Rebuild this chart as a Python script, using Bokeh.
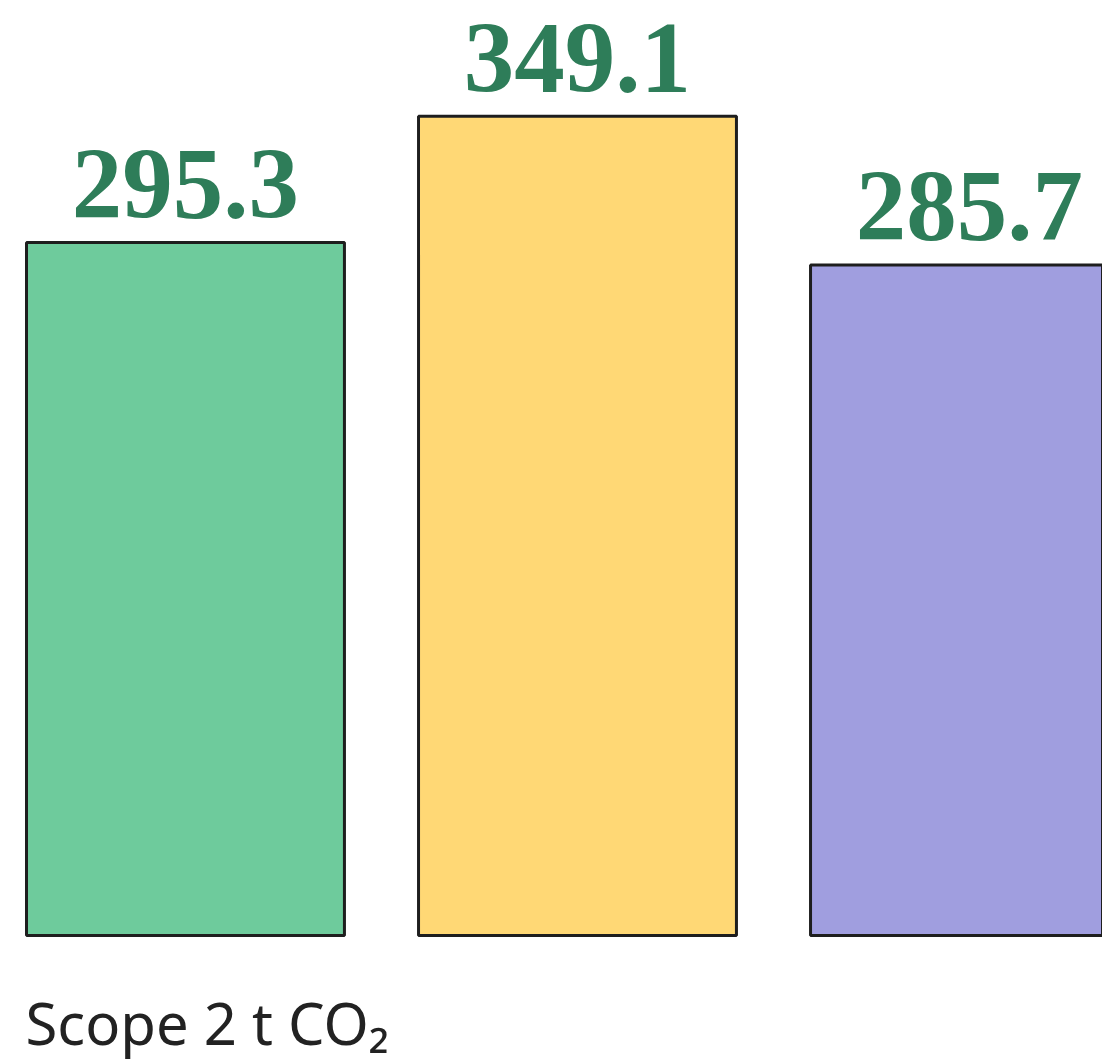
from bokeh.plotting import figure
from bokeh.models import ColumnDataSource, Range1d, Label
from bokeh.core.properties import value
from bokeh.embed import file_html
from bokeh.resources import INLINE

# data
categories = ["A", "B", "C"]
values = [295.3, 349.1, 285.7]
labels = ["295.3", "349.1", "285.7"]
colors = ["#6ECB9C", "#FFD875", "#A09EDF"]
unit_label = "Scope 2 t CO\u2082"

xs = list(range(len(categories)))
src = ColumnDataSource(dict(x=xs, top=values, label=labels, color=colors))

p = figure(width=1102, height=1060, output_backend="svg", toolbar_location=None,
           x_range=Range1d(-0.4719, 2.3393), y_range=Range1d(-53.26, 398.38),
           min_border=0, outline_line_color=None)
p.axis.visible = False
p.grid.visible = False
p.background_fill_color = "white"
p.border_fill_color = "white"

p.vbar(x="x", top="top", bottom=0, width=0.811, source=src,
       fill_color="color", line_color="#1e1e1e", line_width=3)

p.text(x="x", y="top", text="label", source=src, text_align="center",
       text_baseline="alphabetic", y_offset=-58,
       text_font=value("Liberation Serif"), text_font_style="bold",
       text_font_size="101px", text_color="#2E7D59")

p.add_layout(Label(x=25, y=38, x_units="screen", y_units="screen",
                   text=unit_label, text_font="Noto Sans", text_font_size="58px",
                   text_color="#222222", text_baseline="alphabetic"))

open("out.html", "w").write(file_html(p, INLINE))
